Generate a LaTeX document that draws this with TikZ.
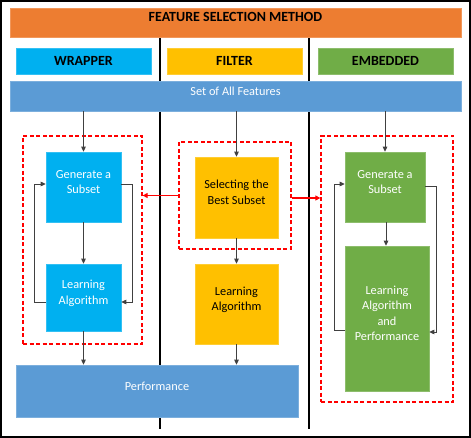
\documentclass[tikz,border=0pt]{standalone}
\usepackage{fontspec}
\setmainfont{Carlito}
\usetikzlibrary{arrows.meta}
\definecolor{hdorange}{HTML}{ED7D31}
\definecolor{wblue}{HTML}{00B0F0}
\definecolor{fyellow}{HTML}{FFC000}
\definecolor{egreen}{HTML}{70AD47}
\definecolor{setblue}{HTML}{5B9BD5}
\definecolor{linegray}{HTML}{404040}
% text sits a little above the middle of each box
\newcommand{\lift}[1]{\raisebox{4pt}[\height][\depth]{\begin{tabular}{@{}c@{}}#1\end{tabular}}}
\tikzset{
  box/.style={rectangle, draw=#1!80!white, fill=#1, line width=0.6pt, align=center,
    inner sep=2pt, font=\fontsize{12.3}{15.5}\selectfont},
  head/.style={box=#1, font=\fontsize{14}{16}\selectfont\bfseries},
  group/.style={rectangle, draw=red, line width=1.3pt, dash pattern=on 4pt off 2.5pt},
  arr/.style={draw=linegray, line width=0.9pt, -{Triangle[length=5pt,width=4.5pt]}},
  redarr/.style={draw=red, line width=1.2pt, -{Triangle[length=5pt,width=5pt]}}
}
\begin{document}
\begin{tikzpicture}[x=1pt,y=-1pt]
  \useasboundingbox (0,0) rectangle (471,438);
  \draw[line width=2pt] (1,1) rectangle (470,437);
  % dividers
  \draw[line width=1.3pt] (160,37) -- (160,429);
  \draw[line width=1.3pt] (309,37) -- (309,429);
  % header
  \node[head=hdorange, minimum width=451pt, minimum height=29pt] (title) at (235.5,22.5) {\lift{FEATURE SELECTION METHOD}};
  \node[head=wblue, minimum width=135pt, minimum height=26pt] (wrap) at (83.5,61) {WRAPPER};
  \node[head=fyellow, minimum width=135pt, minimum height=26pt] (filt) at (234.5,61) {FILTER};
  \node[head=egreen, minimum width=135pt, minimum height=26pt] (emb) at (385.5,61) {EMBEDDED};
  \node[box=setblue, text=white, minimum width=451pt, minimum height=30pt] (allset) at (235.5,96) {\lift{Set of All Features}};
  % groups
  \node[group, minimum width=119pt, minimum height=208pt] (wgroup) at (82.5,240) {};
  \node[group, minimum width=112pt, minimum height=107pt] (fgroup) at (235,195.5) {};
  \node[group, minimum width=132pt, minimum height=266pt] (egroup) at (387,269) {};
  % wrapper
  \node[box=wblue, text=white, minimum width=75pt, minimum height=70pt] (wgen) at (83.5,187) {\lift{Generate a\\Subset}};
  \node[box=wblue, text=white, minimum width=75pt, minimum height=67pt] (wlearn) at (83.5,297.5) {\lift{Learning\\Algorithm}};
  % filter
  \node[box=fyellow, minimum width=83pt, minimum height=81pt] (fsel) at (236.5,197.5) {\lift{Selecting the\\Best Subset}};
  \node[box=fyellow, minimum width=83pt, minimum height=80pt] (flearn) at (236.5,304) {\lift{Learning\\Algorithm}};
  \node[box=setblue, text=white, minimum width=282pt, minimum height=52pt] (perf) at (157,391) {\lift{Performance}};
  % embedded
  \node[box=egreen, text=white, minimum width=80pt, minimum height=70pt] (egen) at (385,187) {\lift{Generate a\\Subset}};
  \node[box=egreen, text=white, minimum width=84pt, minimum height=145pt] (elearn) at (387,318.5) {\lift{Learning\\Algorithm\\and\\Performance}};
  % connectors
  \draw[arr] (allset.south -| wgen) -- (wgen.north);
  \draw[arr] (allset.south -| fsel) -- (fsel.north);
  \draw[arr] (allset.south -| egen) -- (egen.north);
  \draw[arr] (wgen) -- (wlearn);
  \draw[arr] (wlearn.south) -- (wlearn |- perf.north);
  \draw[arr] ([yshift=-4.5pt]wlearn.west) -- ++(-11,0) |- ([yshift=3pt]wgen.west);
  \draw[arr] ([yshift=3pt]wgen.east) -- ++(11,0) |- ([yshift=-4.5pt]wlearn.east);
  \draw[arr] (fsel.south) -- (flearn.north);
  \draw[arr] (flearn.south) -- (flearn |- perf.north);
  \draw[arr] (egen.south -| 386,0) -- (elearn.north -| 386,0);
  \draw[arr] ([yshift=-11.5pt]elearn.west) -- ++(-10,0) |- ([yshift=3pt]egen.west);
  \draw[arr] ([yshift=1pt]egen.east) -- ++(11,0) |- ([yshift=-13.5pt]elearn.east);
  \draw[redarr] (fgroup.west) -- (fgroup.west -| wgroup.east);
  \draw[redarr] ([yshift=-2.5pt]fgroup.east) -- ([yshift=-2.5pt]fgroup.east -| egroup.west);
\end{tikzpicture}
\end{document}
